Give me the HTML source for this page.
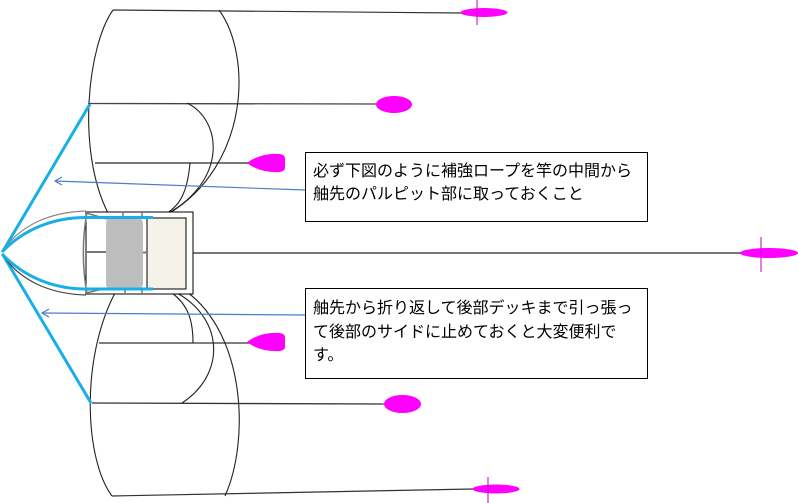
<!DOCTYPE html>
<html>
<head>
<meta charset="utf-8">
<style>
html,body{margin:0;padding:0;background:#fff;}
svg{display:block;}
text{font-family:"Liberation Sans","Noto Sans CJK JP",sans-serif;font-size:16px;fill:#000;}
</style>
</head>
<body>
<svg width="798" height="503" viewBox="0 0 798 503" xmlns="http://www.w3.org/2000/svg">
<rect width="798" height="503" fill="#fff"/>

<!-- horizontal rope lines -->
<line x1="113" y1="10" x2="462" y2="13" stroke="#333" stroke-width="1.2"/>
<line x1="88" y1="103.5" x2="378" y2="104" stroke="#444" stroke-width="1.3"/>
<line x1="95" y1="163" x2="250" y2="163" stroke="#777" stroke-width="2"/>
<line x1="86" y1="253" x2="742" y2="253" stroke="#777" stroke-width="2"/>
<line x1="99" y1="343" x2="250" y2="343" stroke="#555" stroke-width="1.5"/>
<line x1="92" y1="403" x2="386" y2="404" stroke="#333" stroke-width="1.3"/>
<line x1="112" y1="496" x2="473" y2="489" stroke="#333" stroke-width="1.2"/>

<!-- top sail curves -->
<path d="M113,10 C88,45 76,150 108,213" fill="none" stroke="#222" stroke-width="1.1"/>
<path d="M219,10 C252,55 250,165 168,214" fill="none" stroke="#222" stroke-width="1.1"/>
<path d="M187,103 C222,120 228,180 167,214" fill="none" stroke="#222" stroke-width="1.1"/>
<path d="M190,163 C188,185 183,205 165,214" fill="none" stroke="#222" stroke-width="1.1"/>

<!-- bottom sail curves -->
<path d="M115,293 C80,360 85,460 112,496" fill="none" stroke="#222" stroke-width="1.1"/>
<path d="M187,292 C245,335 250,440 225,496" fill="none" stroke="#222" stroke-width="1.1"/>
<path d="M177,293 C225,320 225,375 182,403" fill="none" stroke="#222" stroke-width="1.1"/>
<path d="M172,293 C188,305 193,320 193,343" fill="none" stroke="#222" stroke-width="1.1"/>

<!-- blue stay lines -->
<line x1="3" y1="251" x2="90" y2="104" stroke="#1aaee6" stroke-width="3"/>
<line x1="3" y1="255" x2="91" y2="403" stroke="#1aaee6" stroke-width="3"/>

<!-- boat -->
<path d="M2,252 C20,225 50,212 86,211" fill="none" stroke="#888" stroke-width="1.2"/>
<path d="M2,254 C20,281 50,294 86,295" fill="none" stroke="#444" stroke-width="1.2"/>
<rect x="86" y="212" width="107" height="82" fill="#fff" stroke="#000" stroke-width="1"/>
<path d="M87,212 C82,240 82,266 87,294" fill="none" stroke="#777" stroke-width="1.5"/>
<line x1="86" y1="213" x2="107" y2="219" stroke="#777" stroke-width="1.5"/>
<line x1="86" y1="293" x2="107" y2="288" stroke="#777" stroke-width="1.5"/>
<line x1="86" y1="252" x2="106" y2="252" stroke="#777" stroke-width="2"/>
<rect x="106" y="218" width="37" height="71" rx="5" fill="#bdbdbd"/>
<rect x="147" y="218" width="39" height="71" fill="#f4f2e9" stroke="#000" stroke-width="1"/>
<line x1="143" y1="252.5" x2="147" y2="252.5" stroke="#777" stroke-width="2"/>
<line x1="123" y1="212" x2="123" y2="218" stroke="#777" stroke-width="1.5"/>
<line x1="142" y1="212" x2="142" y2="218" stroke="#777" stroke-width="1.5"/>
<line x1="125" y1="289" x2="125" y2="294" stroke="#777" stroke-width="1.5"/>
<line x1="142" y1="289" x2="142" y2="294" stroke="#777" stroke-width="1.5"/>
<path d="M2,252 C25,228 55,217.5 86,217.5 L153,217.5" fill="none" stroke="#1aaee6" stroke-width="3"/>
<path d="M2,254 C25,278 55,289 86,289 L153,289" fill="none" stroke="#1aaee6" stroke-width="3"/>

<!-- magenta markers -->
<ellipse cx="484" cy="12.5" rx="23.5" ry="4.5" fill="#ff00ff"/>
<line x1="477" y1="0" x2="477" y2="25" stroke="#c000c0" stroke-width="1"/>
<ellipse cx="394" cy="104.5" rx="18" ry="8.5" fill="#ff00ff"/>
<path d="M247,163 Q260,153 280,154 Q285,155 285,158 L285,168 Q285,171 280,172 Q260,173 247,163 Z" fill="#ff00ff"/>
<ellipse cx="769" cy="253" rx="29" ry="5" fill="#ff00ff"/>
<line x1="761" y1="237" x2="761" y2="272" stroke="#c000c0" stroke-width="1"/>
<path d="M247,342 Q260,332 280,333 Q285,334 285,337 L285,347 Q285,350 280,351 Q260,352 247,342 Z" fill="#ff00ff"/>
<ellipse cx="402.5" cy="404" rx="18.5" ry="9" fill="#ff00ff"/>
<ellipse cx="496" cy="489" rx="23.5" ry="4.5" fill="#ff00ff"/>
<line x1="488" y1="477" x2="488" y2="503" stroke="#c000c0" stroke-width="1"/>

<!-- arrows -->
<line x1="305" y1="190" x2="55" y2="181" stroke="#4a7ec8" stroke-width="1.2"/>
<polyline points="62,177 55,181 62,185" fill="none" stroke="#4a7ec8" stroke-width="1.2"/>
<line x1="305" y1="315" x2="42" y2="313" stroke="#4a7ec8" stroke-width="1.2"/>
<polyline points="49,309 42,313 49,317" fill="none" stroke="#4a7ec8" stroke-width="1.2"/>

<!-- text boxes -->
<rect x="305.5" y="152.5" width="342" height="69" fill="#fff" stroke="#000" stroke-width="1"/>
<text x="313" y="176">必ず下図のように補強ロープを竿の中間から</text>
<text x="313" y="199">舳先のパルピット部に取っておくこと</text>

<rect x="305.5" y="288.5" width="342" height="90" fill="#fff" stroke="#000" stroke-width="1"/>
<text x="313" y="313">舳先から折り返して後部デッキまで引っ張っ</text>
<text x="313" y="337">て後部のサイドに止めておくと大変便利で</text>
<text x="313" y="360">す。</text>
</svg>
</body>
</html>
